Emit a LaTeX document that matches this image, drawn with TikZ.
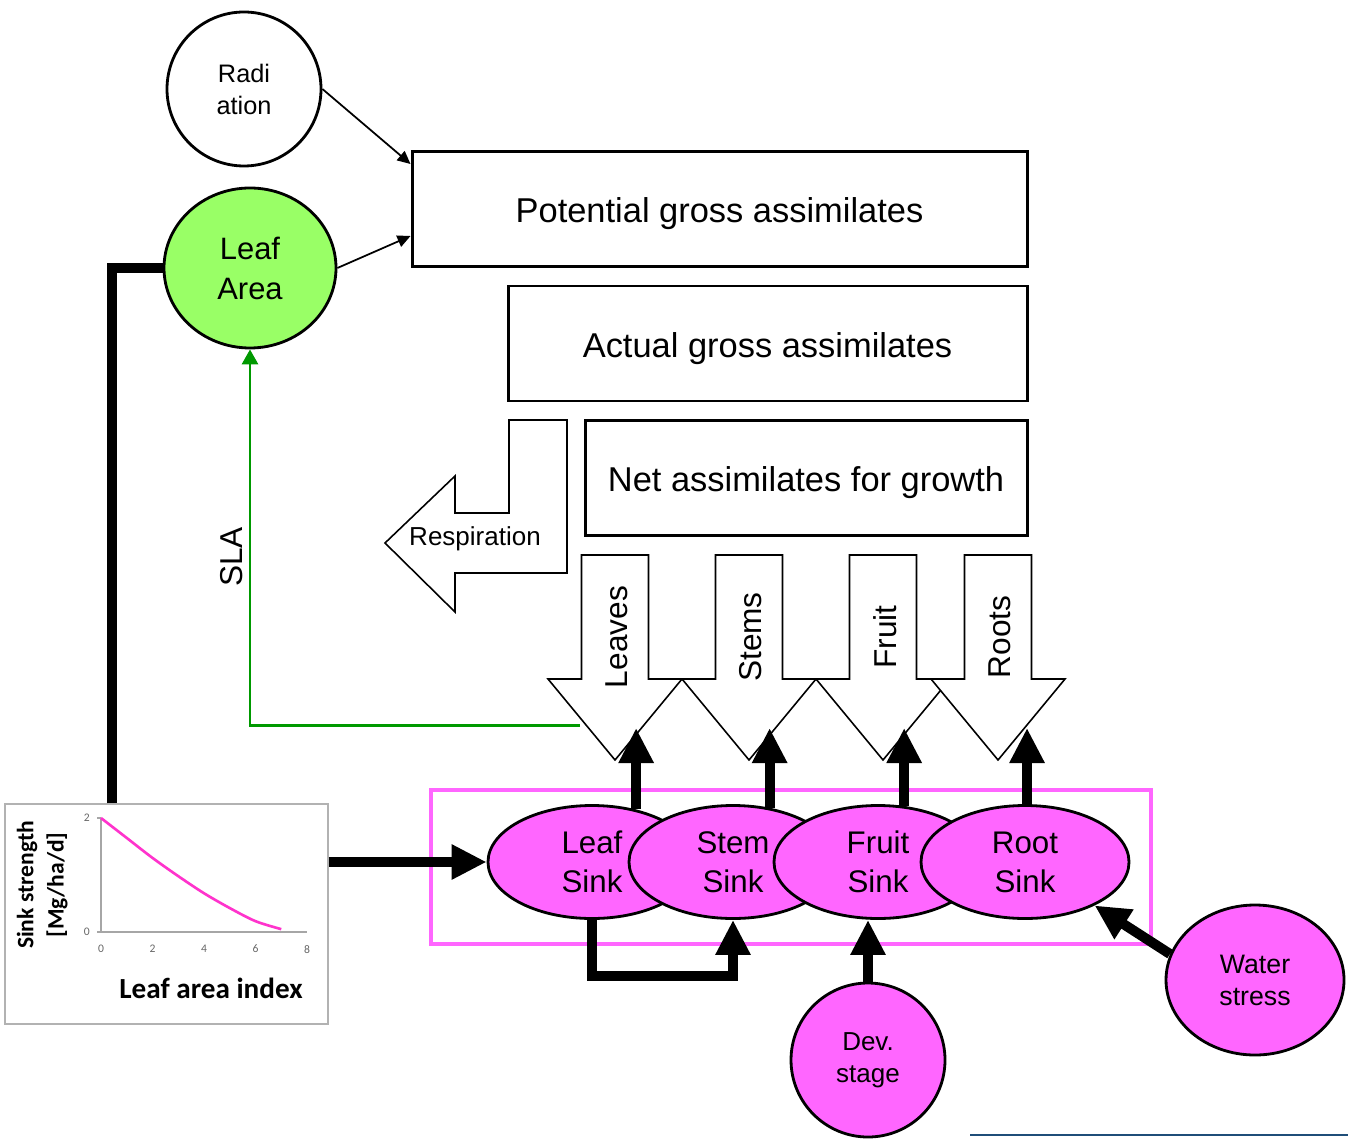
\documentclass[tikz,border=0pt]{standalone}
\usepackage{fontspec}
\setmainfont{Liberation Sans}
\newfontfamily\chartfont{Carlito}
\usetikzlibrary{arrows.meta,shapes.geometric}
\newcommand{\fs}[2]{\fontsize{#1}{#2}\selectfont}
\definecolor{sinkpink}{RGB}{255,102,255}
\definecolor{leafgreen}{RGB}{153,255,102}
\definecolor{slagreen}{RGB}{0,153,0}
\definecolor{curvepink}{RGB}{255,51,204}
\definecolor{ruleblue}{RGB}{31,78,121}

\begin{document}
\begin{tikzpicture}[x=0.1mm,y=-0.1mm,
   box/.style={draw,line width=0.85pt,inner sep=0pt,minimum height=11.5mm,text height=7.9pt,text depth=0pt,
      font=\fs{9.8}{12}},
   blob/.style={draw,line width=0.8pt,align=center,inner sep=0pt},
   sink/.style={blob,ellipse,fill=sinkpink,minimum width=20.8mm,minimum height=11.3mm,font=\fs{8.9}{11.1}},
   flow/.style={draw,fill=white,line width=0.45pt},
   feed/.style={line width=0.5pt,-{Triangle[length=1.3mm,width=1.2mm]}},
   fat/.style={line width=2.85pt,-{Triangle[length=3.5mm,width=3.3mm]}},
   sla/.style={slagreen,line width=0.85pt,-{Triangle[length=1.5mm,width=1.6mm]}},
   tick/.style={gray!80!black,font=\chartfont\fs{3.3}{4},inner sep=0pt}]
   \useasboundingbox (0,0) rectangle (1348,1140);

   % assimilate boxes
   \node[box,minimum width=61.5mm] (pot) at (719.5,209) {Potential gross assimilates};
   \node[box,minimum width=51.9mm] (act) at (767.5,343.5) {Actual gross assimilates};
   \node[box,minimum width=44.2mm] (net) at (806,478) {Net assimilates for growth};

   \node[blob,circle,minimum size=15.4mm,font=\fs{7.2}{9.1}] (rad) at (244,89) {Radi\\ation};
   \node[blob,ellipse,fill=leafgreen,minimum width=17.2mm,minimum height=16mm,
         font=\fs{8.8}{11.4}] (leafarea) at (250,268) {Leaf\\Area};
   \draw[feed] (rad.east) -- ([yshift=-1.4mm]pot.north west);
   \draw[feed] (leafarea.east) -- ([yshift=-2.7mm]pot.west);

   % respiration
   \draw[flow] (509,420) -- (567,420) -- (567,573) -- (455,573) -- (455,612) -- (385,543)
      -- (455,476) -- (455,513) -- (509,513) -- cycle;
   \node[font=\fs{7.4}{9}] (resp) at (475,539) {Respiration};

   % partitioning
   \foreach \cx/\lab/\nm in {615/Leaves/leaves,749/Stems/stems,883/Fruit/fruit,998/Roots/roots}{
      \draw[flow] (\cx-33.5,555) -- (\cx+33.5,555) -- (\cx+33.5,679) -- (\cx+67,679)
         -- (\cx,760) -- (\cx-67,679) -- (\cx-33.5,679) -- cycle;
      \node[rotate=90,font=\fs{9}{11}] (\nm) at (\cx+2,637) {\lab};
   }

   \coordinate (slafrom) at (580,725);
   \draw[sla] (slafrom) -| (leafarea.south);
   \node[rotate=90,font=\fs{9}{11}] (slalab) at (232,557) {SLA};

   % sink strength chart
   \node[draw=gray!60,line width=0.4pt,minimum width=32.3mm,minimum height=22mm,inner sep=0pt]
      (chart) at (166.5,914) {};
   \begin{scope}[shift={(101,932)},x=2.575mm,y=5.7mm]
      \draw[gray!70,line width=0.3pt] (0,2) -- (0,0) -- (8,0);
      \draw[gray!70,line width=0.3pt] (-0.15,2) -- (0,2) (-0.15,0) -- (0,0);
      \foreach \t in {0,2,...,8} \node[tick] (tx\t) at (\t,-0.3) {\t};
      \node[tick] (ty2) at (-0.55,2) {2};
      \node[tick] (ty0) at (-0.55,0) {0};
      \draw[curvepink,line width=0.75pt] plot[smooth] coordinates
         {(0,2) (1,1.65) (2,1.3) (3,0.98) (4,0.68) (5,0.42) (6,0.19) (7,0.05)};
   \end{scope}
   \node[rotate=90,font=\chartfont\bfseries\fs{6.7}{8}] (sinklab) at (27,885) {Sink strength};
   \node[rotate=90,font=\chartfont\bfseries\fs{6.7}{8}] (unitlab) at (57,885) {[Mg/ha/d]};
   \node[font=\chartfont\bfseries\fs{8.3}{10}] (lailab) at (211,988) {Leaf area index};
   \draw[fat,-] (chart.north west) ++(108,0) |- (leafarea.west);

   % sinks
   \draw[sinkpink,line width=1pt] (431,790) rectangle (1151,944);
   \node[sink] (leafsink) at (592,862) {Leaf\\Sink};
   \node[sink] (stemsink) at (733,862) {Stem\\Sink};
   \node[sink] (fruitsink) at (878,862) {Fruit\\Sink};
   \node[sink] (rootsink) at (1025,862) {Root\\Sink};
   \coordinate (uptip) at (0,728);
   \foreach \s/\a in {leafsink/50,stemsink/56,fruitsink/65,rootsink/88}
      \draw[fat] (\s.\a) -- (\s.\a |- uptip);
   \draw[fat] (chart.east |- leafsink) -- (leafsink.west);
   \draw[fat] (leafsink.south) -- ++(0,56) -| (stemsink.south);

   \node[blob,circle,fill=sinkpink,minimum size=15.4mm,font=\fs{7.4}{9.1}] (dev) at (868,1060) {Dev.\\stage};
   \node[blob,ellipse,fill=sinkpink,minimum width=17.8mm,minimum height=15mm,font=\fs{7.6}{9.1}]
      (water) at (1255,980) {Water\\stress};
   \draw[fat] (dev.north) -- (dev.north |- fruitsink.south);
   \draw[fat] (water.163) -- (rootsink.-32);

   \draw[ruleblue,line width=0.6pt] (970,1135) -- (1348,1135);
\end{tikzpicture}
\end{document}
